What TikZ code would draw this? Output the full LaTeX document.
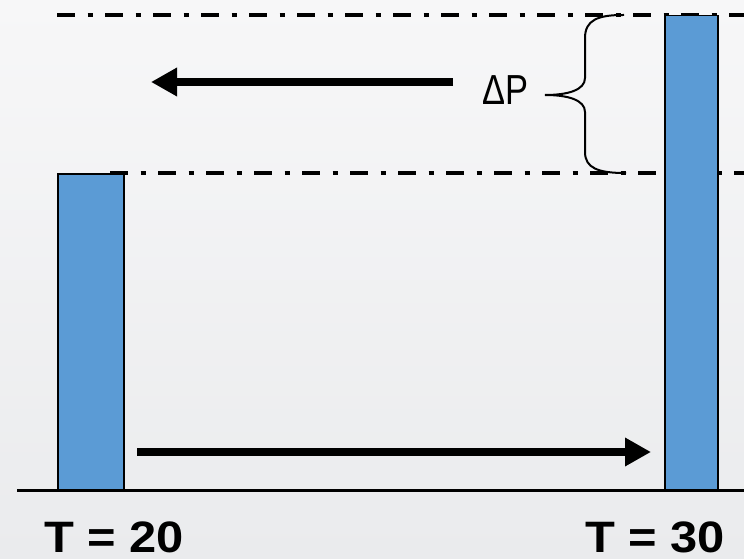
\documentclass[tikz,border=0pt]{standalone}
\usepackage{fontspec}
\usepackage{graphicx}
\setmainfont{Liberation Sans}
\usetikzlibrary{arrows.meta}
\definecolor{barblue}{HTML}{5B9BD5}
\definecolor{bgtop}{HTML}{F7F7F8}
\definecolor{bgbot}{HTML}{EAEBED}
\begin{document}
\begin{tikzpicture}[x=1pt,y=-1pt,
  bar/.style={draw=black,line width=1.5pt,fill=barblue,inner sep=0pt,anchor=north west},
  level/.style={line width=4.5pt,dash pattern=on 18pt off 12.5pt on 5pt off 12.5pt},
  bigarrow/.style={line width=8.5pt,-{Triangle[length=26pt,width=27pt]}},
  bracestyle/.style={line width=2pt,line cap=rect},
  tlabel/.style={inner sep=0pt,anchor=base west,font=\fontsize{44}{48}\selectfont\bfseries},
  dlabel/.style={inner sep=0pt,anchor=base west,font=\fontsize{42}{44}\selectfont}]
\useasboundingbox (0,0) rectangle (744,559);
\shade[top color=bgtop,bottom color=bgbot] (0,0) rectangle (744,559);
% levels
\coordinate (topL) at (57,15);
\coordinate (topR) at (744,15);
\coordinate (midL) at (110,173);
\coordinate (midR) at (744,173);
\draw[level] (topL) -- (topR);
\draw[level] (midL) -- (midR);
% bars
\node[bar,minimum width=66pt,minimum height=317pt] (lbar) at (57,173) {};
\node[bar,minimum width=53pt,minimum height=475pt] (rbar) at (664,15) {};
% axis
\coordinate (axL) at (17,490.5);
\coordinate (axR) at (744,490.5);
\draw[line width=2.5pt] (axL) -- (axR);
% arrows
\coordinate (a1s) at (137,452);
\coordinate (a1e) at (651,452);
\draw[bigarrow] (a1s) -- (a1e);
\coordinate (a2s) at (453,82);
\coordinate (a2e) at (151,82);
\draw[bigarrow] (a2s) -- (a2e);
% brace
\coordinate (bt) at (623,15);
\coordinate (bb) at (625,173);
\coordinate (tip) at (545,95);
\draw[bracestyle] (bt) .. controls (598,15) and (585,20) .. (585,38) -- (585,78)
  .. controls (585,90) and (568,95) .. (tip)
  .. controls (568,95) and (585,100) .. (585,112) -- (585,152)
  .. controls (585,168) and (598,173) .. (bb);
% labels
\node[dlabel] (dp) at (482,105) {\scalebox{0.82}[1]{ΔP}};
\node[tlabel] (t20) at (44,552) {\scalebox{1.11}[1]{T = 20}};
\node[tlabel] (t30) at (585,552) {\scalebox{1.11}[1]{T = 30}};
\end{tikzpicture}
\end{document}
